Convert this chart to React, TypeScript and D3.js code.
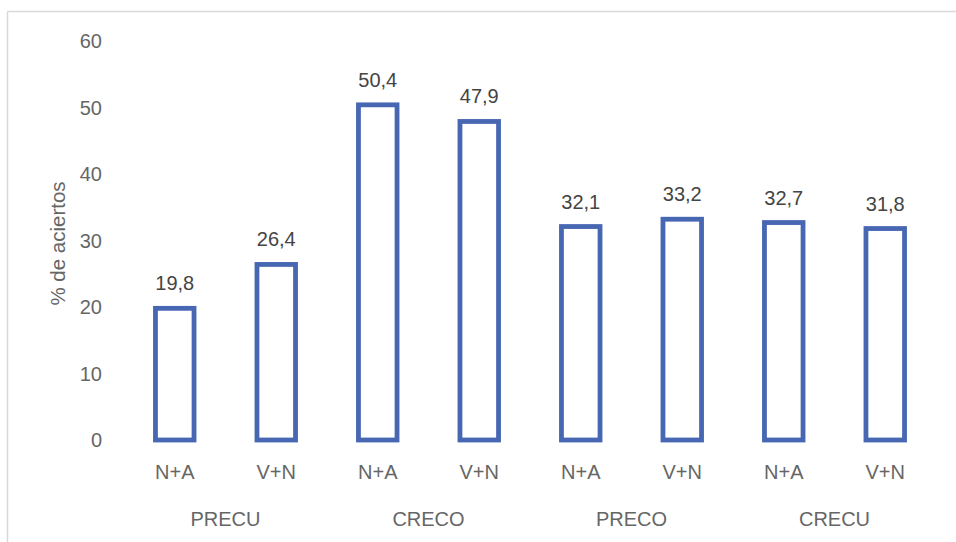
import React from "react";
import * as d3 from "d3";

const groups = ["PRECU", "CRECO", "PRECO", "CRECU"];
const subcats = ["N+A", "V+N"];
const values = [19.8, 26.4, 50.4, 47.9, 32.1, 33.2, 32.7, 31.8];
const yTicks = [0, 10, 20, 30, 40, 50, 60];
const yTitle = "% de aciertos";

const W = 956;
const H = 542;
const FONT = "'Liberation Sans', Arial, sans-serif";
const TXT = "#666666";
const BLUE = "#4767B3";

export default function App() {
  const keys = values.map((_, i) => `${groups[Math.floor(i / 2)]}-${subcats[i % 2]}`);
  const x = d3.scaleBand<string>().domain(keys).range([124, 936]).paddingInner(0.62).paddingOuter(0.31);
  const y = d3.scaleLinear().domain([0, 60]).range([440, 41]);
  const bw = x.bandwidth();
  const fmt = (v: number) => v.toFixed(1).replace(".", ",");

  return (
    <svg width={W} height={H} style={{ position: "absolute", left: 0, top: 0, background: "#fff" }} fontFamily={FONT}>
      <line x1={7.5} y1={11.5} x2={W} y2={11.5} stroke="#D9D9D9" strokeWidth={1.5} />
      <line x1={7.5} y1={11.5} x2={7.5} y2={H} stroke="#D9D9D9" strokeWidth={1.5} />

      {yTicks.map((t) => (
        <text key={t} x={102} y={y(t)} dy="0.35em" textAnchor="end" fontSize={20} fill={TXT}>
          {t}
        </text>
      ))}

      <text
        transform={`translate(58,${y(30) + 3}) rotate(-90)`}
        textAnchor="middle"
        dy="0.35em"
        fontSize={20.5}
        fill={TXT}
      >
        {yTitle}
      </text>

      {values.map((v, i) => {
        const k = keys[i];
        const x0 = x(k)!;
        return (
          <g key={k}>
            <rect
              x={x0}
              y={y(v)}
              width={bw}
              height={y(0) - y(v)}
              fill="#fff"
              stroke={BLUE}
              strokeWidth={4.8}
            />
            <text x={x0 + bw / 2} y={y(v) - 18} textAnchor="middle" fontSize={20} fill="#444444">
              {fmt(v)}
            </text>
            <text x={x0 + bw / 2} y={472} dy="0.35em" textAnchor="middle" fontSize={20} fill={TXT}>
              {subcats[i % 2]}
            </text>
          </g>
        );
      })}

      {groups.map((g, gi) => {
        const c = (x(keys[gi * 2])! + x(keys[gi * 2 + 1])! + bw) / 2;
        return (
          <text key={g} x={c} y={519} dy="0.35em" textAnchor="middle" fontSize={20} fill={TXT}>
            {g}
          </text>
        );
      })}
    </svg>
  );
}
